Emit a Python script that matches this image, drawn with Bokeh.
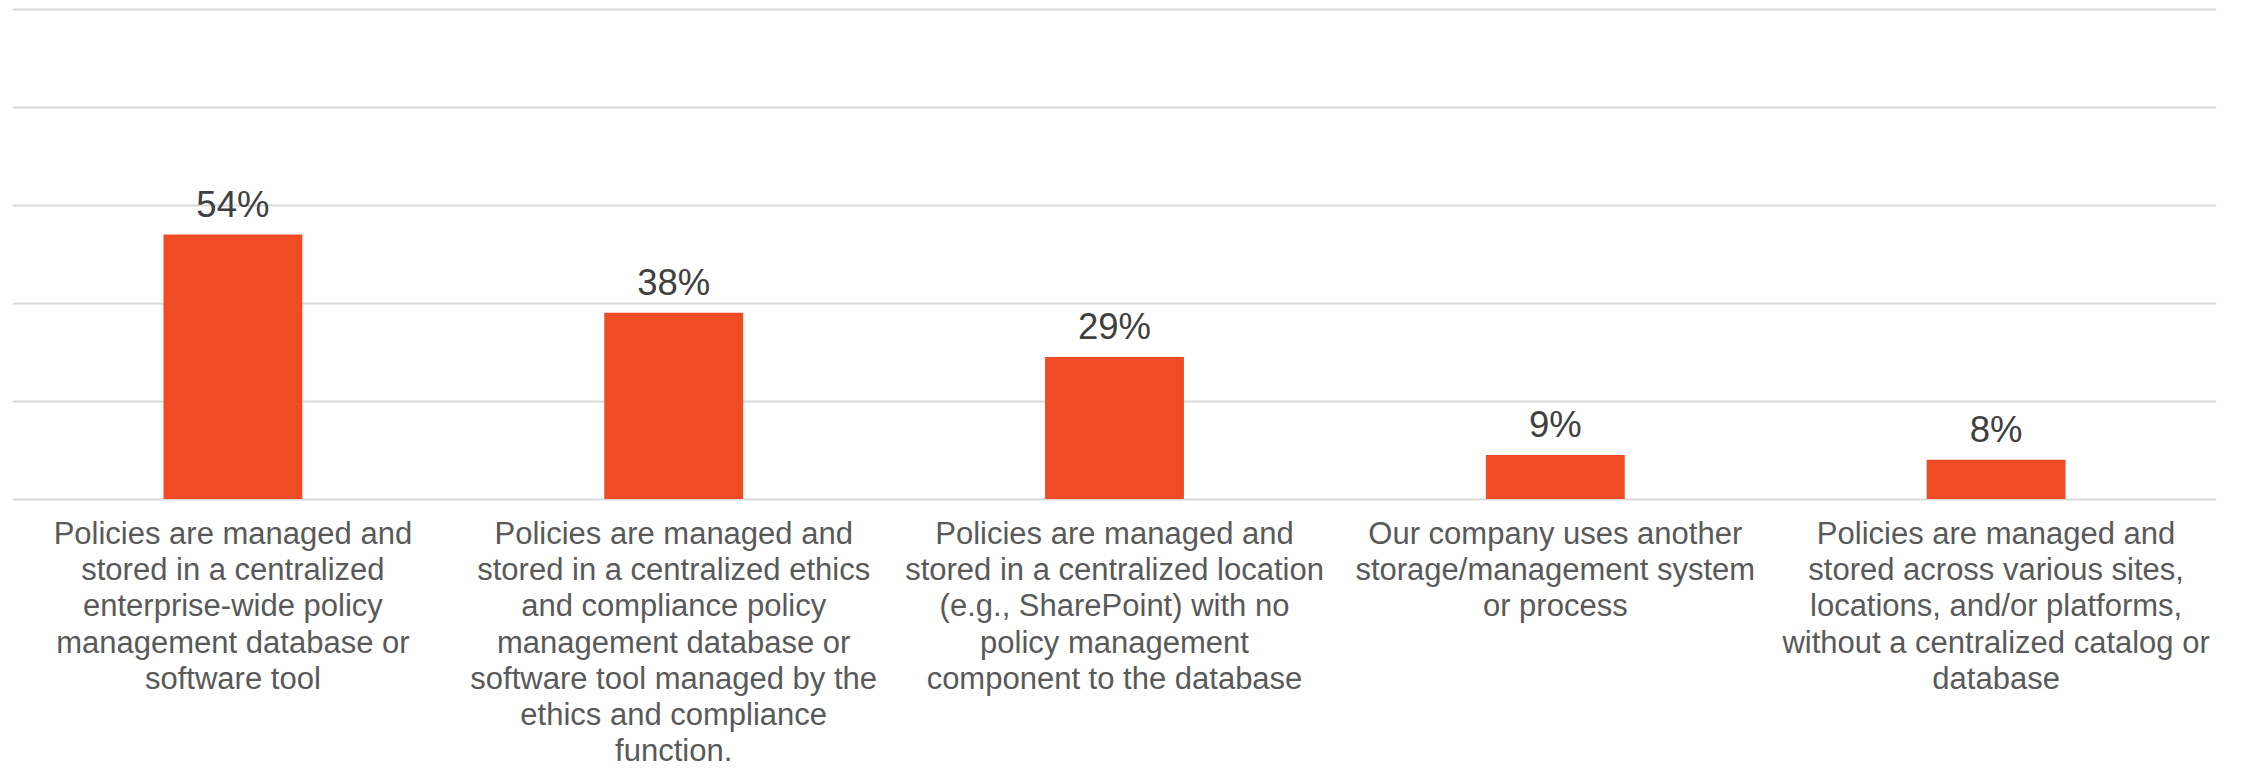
from bokeh.plotting import figure
from bokeh.models import ColumnDataSource, Range1d, FactorRange, Grid, FixedTicker
from bokeh.core.properties import value
from bokeh.embed import file_html
from bokeh.resources import INLINE

categories = [
    "Policies are managed and\nstored in a centralized\nenterprise-wide policy\nmanagement database or\nsoftware tool",
    "Policies are managed and\nstored in a centralized ethics\nand compliance policy\nmanagement database or\nsoftware tool managed by the\nethics and compliance\nfunction.",
    "Policies are managed and\nstored in a centralized location\n(e.g., SharePoint) with no\npolicy management\ncomponent to the database",
    "Our company uses another\nstorage/management system\nor process",
    "Policies are managed and\nstored across various sites,\nlocations, and/or platforms,\nwithout a centralized catalog or\ndatabase",
]
values = [54, 38, 29, 9, 8]
value_labels = ["54%", "38%", "29%", "9%", "8%"]
grid_ticks = [0, 20, 40, 60, 80, 100]

W, H = 2241, 769
px_per_unit = 4.9
y_end = 100 + 8.5 / px_per_unit
y_start = y_end - H / px_per_unit

src = ColumnDataSource(dict(cat=categories, val=values, lab=value_labels, zero=[0] * len(values)))

p = figure(
    width=W, height=H,
    x_range=FactorRange(factors=categories, range_padding=0),
    y_range=Range1d(y_start, y_end),
    output_backend="svg", toolbar_location=None,
    x_axis_location=None, y_axis_location=None,
    min_border_left=12, min_border_right=25, min_border_top=0, min_border_bottom=0,
)
p.outline_line_color = None
p.background_fill_color = "white"
p.border_fill_color = "white"
p.grid.visible = False

p.add_layout(Grid(dimension=1, ticker=FixedTicker(ticks=grid_ticks),
                  grid_line_color="#d9d9d9", grid_line_width=2))

p.vbar(x="cat", top="val", bottom=0, width=0.315, source=src,
       fill_color="#EF4B24", line_color=None)

p.text(x="cat", y="val", text="lab", source=src,
       text_font=value("Liberation Sans"), text_font_size="36.5px",
       text_color="#404040", text_align="center", text_baseline="alphabetic",
       y_offset=-30)

p.text(x="cat", y="zero", text="cat", source=src,
       text_font=value("Liberation Sans"), text_font_size="31px",
       text_color="#595959", text_align="center", text_baseline="top",
       text_line_height=1.035, y_offset=17)

open("out.html", "w").write(file_html(p, INLINE))
